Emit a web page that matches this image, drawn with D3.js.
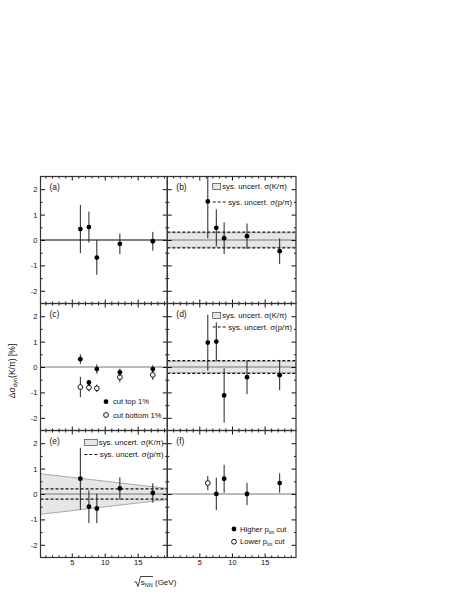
<!DOCTYPE html>
<html><head><meta charset="utf-8">
<script src="https://cdn.jsdelivr.net/npm/d3@7"></script>
<style>body{margin:0;background:#fff}text{font-family:"Liberation Sans",Arial,Helvetica,sans-serif;fill:#111}</style>
</head><body><svg id="c" width="463" height="599"></svg>
<script>
// ---------------- data ----------------
const energies = [6.3, 7.6, 8.8, 12.3, 17.3];
const yTicksMajor = [-2, -1, 0, 1, 2];
const yTicksMinor = [-1.5, -0.5, 0.5, 1.5];
const xTicksMajor = [5, 10, 15];
const xTicksMinor = [1,2,3,4,6,7,8,9,11,12,13,14,16,17,18,19];
const panelLabels = ["(a)", "(b)", "(c)", "(d)", "(e)", "(f)"];

const aValues = [0.43, 0.51, -0.69, -0.15, -0.05];
const aErrors = [0.95, 0.61, 0.68, 0.40, 0.37];

const bValues = [1.52, 0.48, 0.07, 0.15, -0.44];
const bErrors = [1.45, 0.73, 0.62, 0.50, 0.50];
const bBand = 0.28, bDash = 0.31;

const cTopValues = [0.31, -0.61, -0.08, -0.21, -0.08];
const cTopErrors = [0.19, 0.10, 0.18, 0.15, 0.15];
const cBottomValues = [-0.79, -0.81, -0.84, -0.40, -0.31];
const cBottomErrors = [0.40, 0.15, 0.15, 0.20, 0.20];

const dValues = [0.96, 1.00, -1.12, -0.40, -0.32];
const dErrors = [1.10, 0.76, 1.07, 0.67, 0.60];
const dBand = 0.22, dDash = 0.25;

const eValues = [0.60, -0.50, -0.57, 0.22, 0.04];
const eErrors = [1.22, 0.64, 0.58, 0.44, 0.38];
const eBandLeft = 0.80, eBandRight = 0.22, eDash = 0.20;

const fHighEnergies = [7.6, 8.8, 12.3, 17.3];
const fHighValues = [0.00, 0.60, 0.00, 0.43];
const fHighErrors = [0.64, 0.55, 0.44, 0.38];
const fLowEnergies = [6.3];
const fLowValues = [0.43];
const fLowErrors = [0.28];

// ---------------- layout ----------------
const svg = d3.select("#c");
const cols = [{x0: 40.5, x1: 167.3, xd: [0.25, 19.5]}, {x0: 167.3, x1: 296, xd: [0.1, 19.8]}];
const rows = [{y0: 176.5, y1: 303.5}, {y0: 303.5, y1: 430.5}, {y0: 430.5, y1: 557.5}];
const FS = 7.5;
let clipId = 0;

function pts(xs, vs, es) { return xs.map((e, i) => ({x: e, v: vs[i], e: es[i]})); }

function drawPanel(idx, draw) {
  const col = cols[idx % 2], row = rows[Math.floor(idx / 2)];
  const x = d3.scaleLinear().domain(col.xd).range([col.x0, col.x1]);
  const y = d3.scaleLinear().domain([-2.5, 2.5]).range([row.y1, row.y0]);
  const g = svg.append("g");
  const id = "clip" + (clipId++);
  g.append("clipPath").attr("id", id).append("rect")
    .attr("x", col.x0).attr("y", row.y0).attr("width", col.x1 - col.x0).attr("height", row.y1 - row.y0);
  const inner = g.append("g").attr("clip-path", `url(#${id})`);
  draw(inner, x, y, col, row);

  const fmt = d => String(d);
  const showY = idx % 2 === 0, showX = Math.floor(idx / 2) === 2;
  const ax = (a, tr) => {
    const s = g.append("g").attr("transform", tr).call(a);
    s.select(".domain").remove();
    s.selectAll("line").attr("stroke", "#111").attr("stroke-width", 1);
    s.selectAll("text").attr("font-size", FS).attr("font-family", null).attr("fill", "#111");
    return s;
  };
  ax(d3.axisLeft(y).tickValues(yTicksMajor).tickSize(-4.5).tickPadding(3).tickFormat(showY ? fmt : () => ""), `translate(${col.x0},0)`);
  ax(d3.axisLeft(y).tickValues(yTicksMinor).tickSize(-2).tickFormat(() => ""), `translate(${col.x0},0)`);
  ax(d3.axisRight(y).tickValues(yTicksMajor).tickSize(-4.5).tickFormat(() => ""), `translate(${col.x1},0)`);
  ax(d3.axisRight(y).tickValues(yTicksMinor).tickSize(-2).tickFormat(() => ""), `translate(${col.x1},0)`);
  ax(d3.axisBottom(x).tickValues(xTicksMajor).tickSize(-4).tickPadding(2.5).tickFormat(showX ? fmt : () => ""), `translate(0,${row.y1})`);
  ax(d3.axisBottom(x).tickValues(xTicksMinor).tickSize(-2).tickFormat(() => ""), `translate(0,${row.y1})`);
  ax(d3.axisTop(x).tickValues(xTicksMajor).tickSize(-4).tickFormat(() => ""), `translate(0,${row.y0})`);
  ax(d3.axisTop(x).tickValues(xTicksMinor).tickSize(-2).tickFormat(() => ""), `translate(0,${row.y0})`);

  g.append("rect").attr("x", col.x0).attr("y", row.y0).attr("width", col.x1 - col.x0).attr("height", row.y1 - row.y0)
    .attr("fill", "none").attr("stroke", "#333").attr("stroke-width", 1.2);
  g.append("text").attr("x", col.x0 + 9).attr("y", row.y0 + 13.5).attr("font-size", 8.5).text(panelLabels[idx]);
  return {x, y, g};
}

function zeroLine(g, x, y, col, color) {
  g.append("line").attr("x1", col.x0).attr("x2", col.x1).attr("y1", y(0)).attr("y2", y(0))
    .attr("stroke", color).attr("stroke-width", 1);
}
function band(g, x, y, col, h) {
  g.append("rect").attr("x", col.x0).attr("width", col.x1 - col.x0).attr("y", y(h)).attr("height", y(-h) - y(h))
    .attr("fill", "#e6e6e6").attr("stroke", "#999").attr("stroke-width", 0.6);
}
function dashes(g, x, y, col, h) {
  [h, -h].forEach(v => g.append("line").attr("x1", col.x0).attr("x2", col.x1).attr("y1", y(v)).attr("y2", y(v))
    .attr("stroke", "#111").attr("stroke-width", 1.1).attr("stroke-dasharray", "3,2"));
}
function points(g, x, y, data, open) {
  g.selectAll(null).data(data).join("line")
    .attr("x1", d => x(d.x)).attr("x2", d => x(d.x)).attr("y1", d => y(d.v - d.e)).attr("y2", d => y(d.v + d.e))
    .attr("stroke", "#222").attr("stroke-width", 1);
  g.selectAll(null).data(data).join("circle")
    .attr("cx", d => x(d.x)).attr("cy", d => y(d.v)).attr("r", 2.4)
    .attr("fill", open ? "#fff" : "#000").attr("stroke", "#000").attr("stroke-width", open ? 0.9 : 0);
}
function sysLegend(g, x0, yBox, yDash, boxW) {
  g.append("rect").attr("x", x0).attr("y", yBox - 3).attr("width", boxW).attr("height", 6)
    .attr("fill", "#e6e6e6").attr("stroke", "#444").attr("stroke-width", 0.7);
  g.append("text").attr("x", x0 + boxW + 1.5).attr("y", yBox + 2.7).attr("font-size", 7.8).text("sys. uncert. σ(K/π)");
  g.append("line").attr("x1", x0).attr("x2", x0 + 13).attr("y1", yDash).attr("y2", yDash)
    .attr("stroke", "#111").attr("stroke-width", 1.1).attr("stroke-dasharray", "3,2");
  g.append("text").attr("x", x0 + 15.5).attr("y", yDash + 2.7).attr("font-size", 7.8).text("sys. uncert. σ(p/π)");
}

// (a)
drawPanel(0, (g, x, y, col) => {
  zeroLine(g, x, y, col, "#000");
  points(g, x, y, pts(energies, aValues, aErrors), false);
});
// (b)
const pb = drawPanel(1, (g, x, y, col) => {
  band(g, x, y, col, bBand);
  zeroLine(g, x, y, col, "#777");
  dashes(g, x, y, col, bDash);
  points(g, x, y, pts(energies, bValues, bErrors), false);
});
sysLegend(pb.g, 212.7, rows[0].y0 + 10, rows[0].y0 + 25.5, 8);
// (c)
const pc = drawPanel(2, (g, x, y, col) => {
  zeroLine(g, x, y, col, "#777");
  points(g, x, y, pts(energies, cBottomValues, cBottomErrors), true);
  points(g, x, y, pts(energies, cTopValues, cTopErrors), false);
});
pc.g.append("circle").attr("cx", 106).attr("cy", 401.7).attr("r", 2.4).attr("fill", "#000");
pc.g.append("text").attr("x", 113).attr("y", 404.4).attr("font-size", 7.6).text("cut top 1%");
pc.g.append("circle").attr("cx", 106).attr("cy", 415).attr("r", 2.4).attr("fill", "#fff").attr("stroke", "#000").attr("stroke-width", 0.9);
pc.g.append("text").attr("x", 113).attr("y", 417.7).attr("font-size", 7.6).text("cut bottom 1%");
// (d)
const pd = drawPanel(3, (g, x, y, col) => {
  band(g, x, y, col, dBand);
  zeroLine(g, x, y, col, "#777");
  dashes(g, x, y, col, dDash);
  points(g, x, y, pts(energies, dValues, dErrors), false);
});
sysLegend(pd.g, 212.7, rows[1].y0 + 12, rows[1].y0 + 23.5, 8);
// (e)
const pe = drawPanel(4, (g, x, y, col) => {
  const xd = x.domain();
  const poly = [[xd[0], eBandLeft], [xd[1], eBandRight], [xd[1], -eBandRight], [xd[0], -eBandLeft]];
  g.append("path").attr("d", d3.line().x(d => x(d[0])).y(d => y(d[1]))(poly) + "Z")
    .attr("fill", "#e6e6e6").attr("stroke", "#888").attr("stroke-width", 0.7);
  zeroLine(g, x, y, col, "#777");
  dashes(g, x, y, col, eDash);
  points(g, x, y, pts(energies, eValues, eErrors), false);
});
sysLegend(pe.g, 84.3, rows[2].y0 + 12, rows[2].y0 + 24, 13);
// (f)
const pf = drawPanel(5, (g, x, y, col) => {
  zeroLine(g, x, y, col, "#777");
  points(g, x, y, pts(fLowEnergies, fLowValues, fLowErrors), true);
  points(g, x, y, pts(fHighEnergies, fHighValues, fHighErrors), false);
});
function ptotText(yy, label) {
  const t = pf.g.append("text").attr("x", 240).attr("y", yy).attr("font-size", 7.6);
  t.append("tspan").text(label + " p");
  t.append("tspan").attr("font-size", 4.8).attr("dy", 1.8).text("tot");
  t.append("tspan").attr("dy", -1.8).text(" cut");
}
pf.g.append("circle").attr("cx", 234).attr("cy", 529).attr("r", 2.4).attr("fill", "#000");
ptotText(531.7, "Higher");
pf.g.append("circle").attr("cx", 234).attr("cy", 541.7).attr("r", 2.4).attr("fill", "#fff").attr("stroke", "#000").attr("stroke-width", 0.9);
ptotText(544.4, "Lower");

// axis titles
const yt = svg.append("text").attr("transform", "translate(14.5,371) rotate(-90)").attr("text-anchor", "middle").attr("font-size", 8.5);
yt.append("tspan").text("Δσ");
yt.append("tspan").attr("font-size", 5.8).attr("dy", 2).text("dyn");
yt.append("tspan").attr("dy", -2).text("(K/π) [%]");

const xt = svg.append("g");
xt.append("path").attr("d", "M134.5,582.5 L136,581.5 L138,586.5 L140.5,576.5 L153,576.5")
  .attr("fill", "none").attr("stroke", "#111").attr("stroke-width", 0.8);
const xtt = xt.append("text").attr("x", 140.8).attr("y", 585).attr("font-size", 8);
xtt.append("tspan").text("s");
xtt.append("tspan").attr("font-size", 5.5).attr("dy", 1.8).text("NN");
xtt.append("tspan").attr("dy", -1.8).text(" (GeV)");
</script></body></html>
